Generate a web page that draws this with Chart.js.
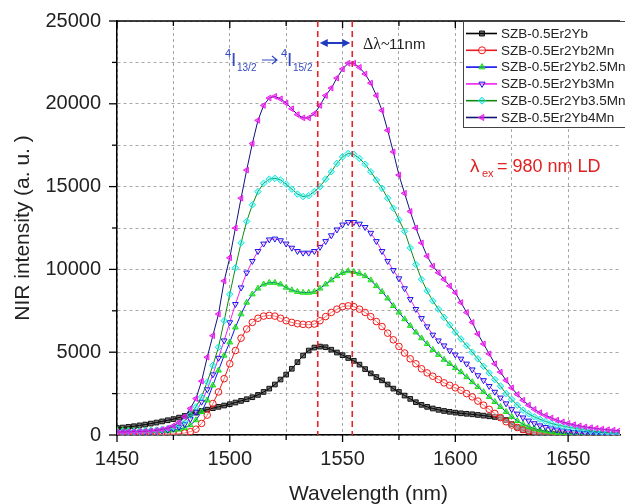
<!DOCTYPE html>
<html>
<head>
<meta charset="utf-8">
<script src="https://cdn.jsdelivr.net/npm/chart.js@4.4.0/dist/chart.umd.min.js"></script>
<style>
  html, body { margin: 0; padding: 0; background: #fff; }
  #wrap { width: 625px; height: 504px; }
</style>
</head>
<body>
<div id="wrap"><canvas id="nirChart"></canvas></div>
<script>
/* NIR emission spectra, SZB-0.5Er2Yb + Mn series, 980 nm LD excitation */

// ── Data ─────────────────────────────────────────────────────
const wavelengths = [
  1450, 1452.5, 1455, 1457.5, 1460, 1462.5, 1465, 1467.5, 1470, 1472.5,
  1475, 1477.5, 1480, 1482.5, 1485, 1487.5, 1490, 1492.5, 1495, 1497.5,
  1500, 1502.5, 1505, 1507.5, 1510, 1512.5, 1515, 1517.5, 1520, 1522.5,
  1525, 1527.5, 1530, 1532.5, 1535, 1537.5, 1540, 1542.5, 1545, 1547.5,
  1550, 1552.5, 1555, 1557.5, 1560, 1562.5, 1565, 1567.5, 1570, 1572.5,
  1575, 1577.5, 1580, 1582.5, 1585, 1587.5, 1590, 1592.5, 1595, 1597.5,
  1600, 1602.5, 1605, 1607.5, 1610, 1612.5, 1615, 1617.5, 1620, 1622.5,
  1625, 1627.5, 1630, 1632.5, 1635, 1637.5, 1640, 1642.5, 1645, 1647.5,
  1650, 1652.5, 1655, 1657.5, 1660, 1662.5, 1665, 1667.5, 1670, 1672.5,
  1675
];

const er2yb = [
  420, 450, 490, 530, 580, 630, 690, 750, 820, 890,
  960, 1050, 1150, 1250, 1350, 1450, 1530, 1620, 1700, 1780,
  1860, 1960, 2060, 2160, 2280, 2420, 2600, 2800, 3050, 3350,
  3650, 4000, 4400, 4800, 5100, 5280, 5340, 5300, 5150, 4980,
  4820, 4650, 4480, 4250, 3980, 3720, 3500, 3300, 3050, 2800,
  2600, 2380, 2180, 1980, 1820, 1700, 1600, 1520, 1450, 1400,
  1350, 1310, 1280, 1250, 1210, 1170, 1130, 1090, 1050, 900,
  650, 450, 300, 220, 160, 120, 90, 70, 55, 45,
  40, 36, 33, 30, 28, 26, 24, 22, 20, 20,
  20
];

const er2yb2Mn = [
  100, 95, 90, 85, 80, 75, 70, 65, 60, 60,
  60, 80, 120, 200, 350, 700, 1200, 1900, 2600, 3400,
  4300, 5100, 5850, 6400, 6800, 7050, 7180, 7220, 7180, 7050,
  6900, 6800, 6720, 6680, 6660, 6700, 6900, 7150, 7400, 7600,
  7750, 7800, 7750, 7600, 7400, 7150, 6850, 6550, 6150, 5750,
  5350, 4950, 4600, 4300, 4000, 3750, 3550, 3350, 3150, 3000,
  2850, 2700, 2500, 2300, 2050, 1800, 1550, 1300, 1050, 800,
  600, 450, 330, 240, 170, 120, 90, 70, 50, 40,
  30, 25, 20, 18, 16, 15, 14, 13, 12, 12,
  12
];

const er2yb25Mn = [
  300, 290, 280, 270, 260, 255, 250, 250, 250, 255,
  290, 340, 430, 600, 900, 1400, 2100, 3000, 3900, 4800,
  5600, 6500, 7300, 8000, 8500, 8850, 9100, 9200, 9200, 9100,
  8900, 8750, 8650, 8600, 8600, 8650, 8850, 9100, 9350, 9600,
  9800, 9900, 9850, 9750, 9600, 9350, 9000, 8650, 8250, 7800,
  7400, 7000, 6600, 6200, 5850, 5500, 5150, 4850, 4550, 4300,
  4050, 3800, 3500, 3200, 2900, 2600, 2300, 2000, 1700, 1400,
  1100, 850, 650, 500, 390, 300, 230, 180, 140, 110,
  90, 70, 55, 45, 35, 30, 25, 20, 20, 15,
  15
];

const er2yb3Mn = [
  150, 150, 160, 170, 180, 195, 210, 235, 260, 300,
  370, 480, 650, 950, 1400, 2000, 2750, 3650, 4650, 5700,
  6800, 7900, 8900, 9800, 10500, 11100, 11550, 11800, 11850, 11750,
  11550, 11300, 11100, 11000, 11000, 11100, 11350, 11700, 12050, 12400,
  12700, 12850, 12850, 12750, 12550, 12200, 11700, 11100, 10500, 9950,
  9450, 8850, 8200, 7600, 7050, 6550, 6050, 5700, 5400, 5100,
  4850, 4600, 4300, 3950, 3600, 3300, 2950, 2600, 2250, 1900,
  1550, 1280, 1050, 860, 700, 570, 470, 390, 320, 260,
  210, 170, 140, 110, 90, 70, 55, 45, 35, 30,
  25
];

const er2yb35Mn = [
  200, 200, 210, 220, 230, 250, 270, 300, 340, 400,
  480, 620, 850, 1200, 1700, 2300, 3200, 4200, 5300, 6900,
  8500, 10100, 11600, 12900, 13900, 14700, 15200, 15450, 15500, 15400,
  15150, 14850, 14550, 14400, 14450, 14700, 15000, 15450, 15900, 16400,
  16800, 17000, 16950, 16700, 16350, 15900, 15400, 14900, 14300, 13700,
  13000, 12300, 11300, 10300, 9400, 8700, 8100, 7600, 7100, 6650,
  6200, 5800, 5400, 5000, 4600, 4150, 3750, 3350, 2950, 2500,
  2150, 1800, 1500, 1280, 1100, 950, 820, 700, 610, 540,
  480, 420, 360, 300, 260, 220, 180, 150, 130, 110,
  100
];

const er2yb4Mn = [
  180, 185, 190, 200, 210, 225, 245, 280, 330, 410,
  550, 750, 1100, 1600, 2200, 3250, 4700, 6000, 7300, 9300,
  10700, 12500, 14300, 16000, 17600, 19000, 19900, 20350, 20450, 20300,
  20050, 19700, 19350, 19150, 19150, 19400, 19900, 20500, 20950, 21550,
  22100, 22450, 22450, 22200, 21800, 21250, 20500, 19600, 18400, 17100,
  15700, 14600, 13500, 12500, 11600, 10800, 10200, 9800, 9400, 9000,
  8600, 8000, 7400, 6800, 6100, 5500, 4900, 4300, 3800, 3300,
  2850, 2450, 2100, 1800, 1550, 1350, 1180, 1030, 900, 790,
  700, 620, 550, 490, 440, 400, 360, 320, 290, 260,
  240
];

const seriesNames = [
  'SZB-0.5Er2Yb', 'SZB-0.5Er2Yb2Mn', 'SZB-0.5Er2Yb2.5Mn',
  'SZB-0.5Er2Yb3Mn', 'SZB-0.5Er2Yb3.5Mn', 'SZB-0.5Er2Yb4Mn'
];
const seriesValues = [er2yb, er2yb2Mn, er2yb25Mn, er2yb3Mn, er2yb35Mn, er2yb4Mn];

const xTicks = [1450, 1475, 1500, 1525, 1550, 1575, 1600, 1625, 1650];
const yTicks = [0, 2500, 5000, 7500, 10000, 12500, 15000, 17500, 20000, 22500, 25000];
const peakMarks = [1539, 1554.3];   // red dashed guides

// ── Styles ───────────────────────────────────────────────────
const lineColors   = ['#000000', '#e8191f', '#1010f0', '#f020f0', '#118a11', '#12127a'];
const markerColors = ['#111111', '#f01515', '#18e018', '#1515e8', '#12e8e8', '#f01cf0'];
const markerFills  = ['rgba(0,0,0,0.55)', 'rgba(255,255,255,0.4)', 'rgba(24,224,24,0.6)',
                      'rgba(255,255,255,0.4)', 'rgba(18,232,232,0.35)', 'rgba(240,28,240,0.6)'];
const markerStyles = ['rect', 'circle', 'triangle', 'triangle', 'rectRot', 'triangle'];
const markerRotate = [0, 0, 0, 180, 0, 270];

const FONT = "'Liberation Sans', Arial, sans-serif";
const INK  = '#222';

// ── Datasets ─────────────────────────────────────────────────
const datasets = seriesNames.map((name, i) => ({
  label: name,
  data: wavelengths.map((w, j) => ({ x: w, y: seriesValues[i][j] })),
  borderColor: lineColors[i],
  borderWidth: 1,
  pointStyle: markerStyles[i],
  pointRotation: markerRotate[i],
  pointRadius: 3.3,
  pointBorderWidth: 1,
  pointBorderColor: markerColors[i],
  pointBackgroundColor: markerFills[i],
  order: 6 - i
}));

// ── Decorations: frame ticks, guides, labels, legend ─────────
function markerAt(ctx, i, x, y) {
  ctx.save();
  ctx.strokeStyle = markerColors[i];
  ctx.fillStyle = markerFills[i];
  ctx.lineWidth = 1;
  Chart.helpers.drawPoint(ctx, {
    pointStyle: markerStyles[i], rotation: markerRotate[i], radius: 3.5, borderWidth: 1
  }, x, y);
  ctx.restore();
}

const decor = {
  id: 'decor',
  afterDraw(chart) {
    const { ctx, chartArea: a, scales: { x, y } } = chart;
    ctx.save();

    // top frame and tick marks
    ctx.strokeStyle = '#000';
    ctx.lineWidth = 1.5;
    ctx.beginPath();
    ctx.moveTo(a.left, a.top); ctx.lineTo(a.right, a.top);
    ctx.stroke();
    ctx.lineWidth = 1.3;
    xTicks.forEach(v => {
      const px = x.getPixelForValue(v);
      const len = v % 50 === 0 ? 7 : 5;
      ctx.beginPath();
      ctx.moveTo(px, a.bottom); ctx.lineTo(px, a.bottom + len);
      ctx.moveTo(px, a.top);    ctx.lineTo(px, a.top + len);
      ctx.stroke();
    });
    yTicks.forEach(v => {
      const py = y.getPixelForValue(v);
      const len = v % 5000 === 0 ? 8 : 5;
      ctx.beginPath();
      ctx.moveTo(a.left, py); ctx.lineTo(a.left - len, py);
      ctx.stroke();
    });

    // red dashed guides
    ctx.strokeStyle = '#e8202a';
    ctx.lineWidth = 1.6;
    ctx.setLineDash([6, 4]);
    peakMarks.forEach(v => {
      const px = x.getPixelForValue(v);
      ctx.beginPath(); ctx.moveTo(px, a.top); ctx.lineTo(px, a.bottom); ctx.stroke();
    });
    ctx.setLineDash([]);

    // Δλ double arrow
    const x1 = x.getPixelForValue(peakMarks[0]) + 2;
    const x2 = x.getPixelForValue(peakMarks[1]) - 2;
    const ay = 43;
    ctx.strokeStyle = ctx.fillStyle = '#1f3cc0';
    ctx.lineWidth = 2;
    ctx.beginPath(); ctx.moveTo(x1 + 5, ay); ctx.lineTo(x2 - 5, ay); ctx.stroke();
    ctx.beginPath(); ctx.moveTo(x1, ay); ctx.lineTo(x1 + 8, ay - 4); ctx.lineTo(x1 + 8, ay + 4); ctx.fill();
    ctx.beginPath(); ctx.moveTo(x2, ay); ctx.lineTo(x2 - 8, ay - 4); ctx.lineTo(x2 - 8, ay + 4); ctx.fill();

    ctx.fillStyle = INK;
    ctx.textBaseline = 'alphabetic';
    ctx.textAlign = 'left';
    ctx.font = "16px 'Liberation Serif', serif";
    ctx.fillText('Δλ~', 363, 49);
    ctx.font = '15px ' + FONT;
    ctx.fillText('11nm', 389, 49);

    // transition label 4I13/2 → 4I15/2
    ctx.fillStyle = '#3448c4';
    ctx.font = '11px ' + FONT;  ctx.fillText('4', 225, 57);
    ctx.font = '19px ' + FONT;  ctx.fillText('I', 231, 66);
    ctx.font = '10px ' + FONT;  ctx.fillText('13/2', 237, 71);
    ctx.font = '11px ' + FONT;  ctx.fillText('4', 281, 57);
    ctx.font = '19px ' + FONT;  ctx.fillText('I', 287, 66);
    ctx.font = '10px ' + FONT;  ctx.fillText('15/2', 293, 71);
    ctx.strokeStyle = '#3448c4';
    ctx.lineWidth = 1.2;
    ctx.beginPath();
    ctx.moveTo(262, 60); ctx.lineTo(277, 60);
    ctx.moveTo(272, 56); ctx.lineTo(277, 60); ctx.lineTo(272, 64);
    ctx.stroke();

    // excitation label
    ctx.fillStyle = '#e02020';
    ctx.font = '19px ' + FONT;  ctx.fillText('λ', 470, 172);
    ctx.font = '11px ' + FONT;  ctx.fillText('ex', 482, 177);
    ctx.font = '18px ' + FONT;  ctx.fillText('= 980 nm LD', 497, 172);

    // legend box
    const lx = 463, ly = a.top, lw = 180, lh = 106;
    ctx.fillStyle = '#fff';
    ctx.fillRect(lx, ly, lw, lh);
    ctx.strokeStyle = '#444';
    ctx.lineWidth = 1;
    ctx.strokeRect(lx + 0.5, ly + 0.5, lw, lh);
    ctx.font = '13.5px ' + FONT;
    ctx.textBaseline = 'middle';
    seriesNames.forEach((name, i) => {
      const ry = 33.5 + i * 16.8;
      ctx.strokeStyle = lineColors[i];
      ctx.lineWidth = 1.6;
      ctx.beginPath(); ctx.moveTo(466, ry); ctx.lineTo(497, ry); ctx.stroke();
      markerAt(ctx, i, 482, ry);
      ctx.fillStyle = INK;
      ctx.fillText(name, 501, ry + 0.5);
    });

    ctx.restore();
  }
};

// ── Chart ────────────────────────────────────────────────────
new Chart(document.getElementById('nirChart'), {
  type: 'line',
  data: { datasets },
  plugins: [decor],
  options: {
    responsive: true,
    maintainAspectRatio: false,
    animation: false,
    layout: { padding: { top: 21, right: 0, left: 0, bottom: 0 } },
    plugins: { legend: { display: false }, tooltip: { enabled: false } },
    scales: {
      x: {
        type: 'linear',
        min: 1450,
        max: 1673,
        afterBuildTicks: s => { s.ticks = xTicks.map(v => ({ value: v })); },
        afterFit: s => { s.height = 69; s.paddingLeft = 0; s.paddingRight = 0; },
        grid: { color: '#a8a8a8', lineWidth: 1, drawTicks: false },
        border: { display: true, color: '#000', width: 1.5, dash: [3, 3] },
        ticks: {
          autoSkip: false, maxRotation: 0, padding: 12,
          color: INK, font: { family: FONT, size: 20 },
          callback: v => (v % 50 === 0 ? v : '')
        },
        title: {
          display: true, text: 'Wavelength (nm)', color: INK,
          font: { family: FONT, size: 21 }, padding: { top: 0, bottom: -3 }
        }
      },
      y: {
        min: 0,
        max: 25000,
        afterBuildTicks: s => { s.ticks = yTicks.map(v => ({ value: v })); },
        afterFit: s => { s.width = 117; s.paddingTop = 0; s.paddingBottom = 0; },
        grid: { color: '#a8a8a8', lineWidth: 1, drawTicks: false },
        border: { display: true, color: '#000', width: 1.5, dash: [3, 3] },
        ticks: {
          autoSkip: false, padding: 16,
          color: INK, font: { family: FONT, size: 20 },
          callback: v => (v % 5000 === 0 ? v : '')
        },
        title: {
          display: true, text: 'NIR intensity (a. u. )', color: INK,
          font: { family: FONT, size: 21 }, padding: { top: 11, bottom: 0 }
        }
      }
    }
  }
});
</script>
</body>
</html>
